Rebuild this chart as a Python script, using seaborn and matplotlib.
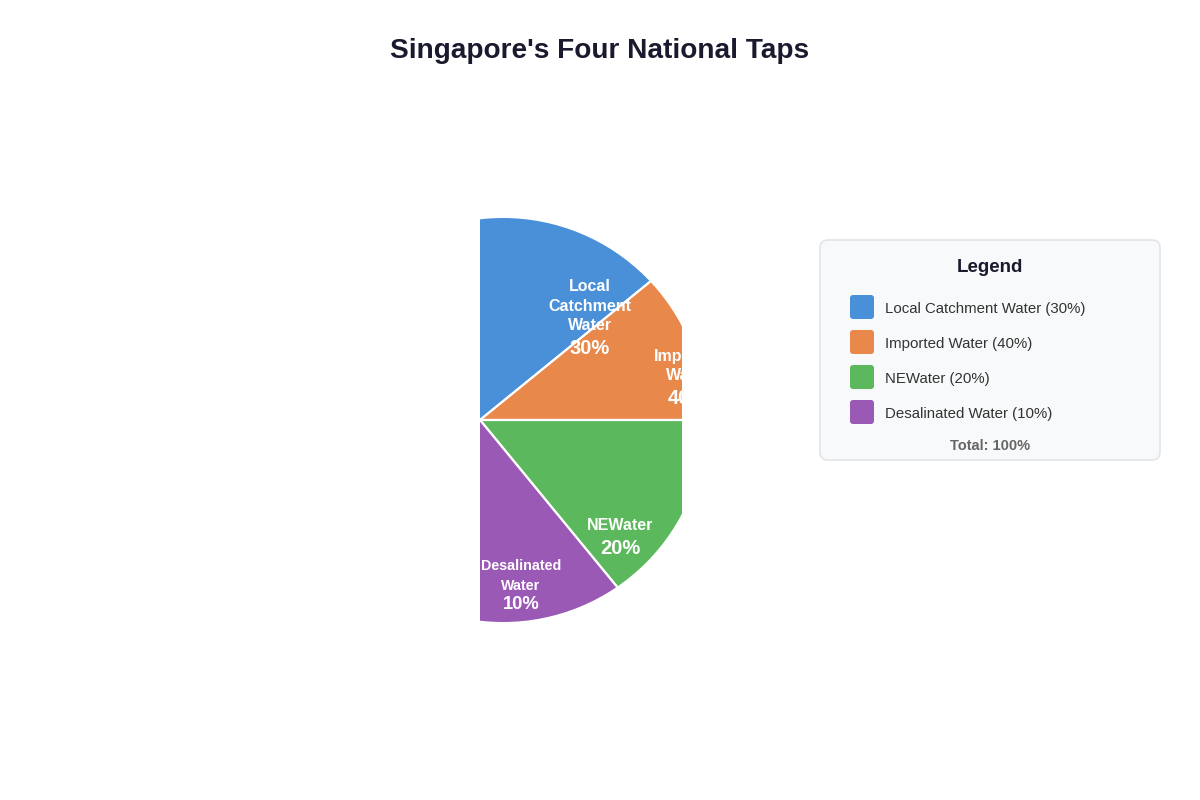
import matplotlib
matplotlib.use('Agg')
import matplotlib.pyplot as plt
from matplotlib.patches import FancyBboxPatch, Circle
import seaborn as sns

# data
sources = ['Local Catchment Water', 'Imported Water', 'NEWater', 'Desalinated Water']
shares = [30, 40, 20, 10]
slice_labels = ['Local\nCatchment\nWater', 'Imported\nWater', 'NEWater', 'Desalinated\nWater']
colors = ['#4A90D9', '#E8884B', '#5CB85C', '#9B59B6']
# sweep of each wedge as it is drawn in the picture (degrees, measured)
drawn_sweep = [140.9, 39.1, 50.6, 129.4]

sns.set_theme(style='white')
plt.rcParams['font.family'] = ['Liberation Sans', 'DejaVu Sans']

W, H = 1200, 800
fig = plt.figure(figsize=(12, 8), dpi=100)
ax = fig.add_axes([0, 0, 1, 1])
ax.set_xlim(0, W)
ax.set_ylim(H, 0)
ax.axis('off')

# the chart area only shows a strip of the pie (x 480..682)
x0, x1, y0, y1 = 480, 682, 218, 623
pax = fig.add_axes([x0 / W, 1 - y1 / H, (x1 - x0) / W, (y1 - y0) / H])
cx, cy, r = 480, 420, 230
wedges, _ = pax.pie(drawn_sweep, colors=colors, startangle=180, counterclock=True,
                    center=(cx, cy), radius=r, frame=True,
                    wedgeprops=dict(edgecolor='white', linewidth=1.6))
pax.set_xlim(x0, x1)
pax.set_ylim(y1, y0)
pax.set_aspect('auto')
pax.axis('off')

# round outline of the visible pie
outline = Circle((503, 420), 202, transform=pax.transData)
for w in wedges:
    w.set_clip_on(True)
    w.set_clip_path(outline)

# slice labels: (x, y of name, y of percent, name size, percent size)
label_pos = [(590, 306, 348, 11.5, 14.5), (688, 366, 398, 11.5, 14.5),
             (620, 525, 548, 11.5, 14.5), (521, 576, 604, 10.3, 13.2)]
for (x, yname, ypct, fs1, fs2), name, val in zip(label_pos, slice_labels, shares):
    pax.text(x, yname, name, ha='center', va='center', color='white',
             fontsize=fs1, fontweight='bold', linespacing=1.6 if fs1 < 11 else 1.4, clip_on=True)
    pax.text(x, ypct, f'{val}%', ha='center', va='center', color='white',
             fontsize=fs2, fontweight='bold', clip_on=True)

# title
ax.text(600, 51, "Singapore's Four National Taps", ha='center', va='center',
        fontsize=20.2, fontweight='bold', color='#1a1a2e')

# legend panel
box = FancyBboxPatch((820, 240), 340, 220, boxstyle='round,pad=0,rounding_size=8',
                     facecolor='#f8f9fa', edgecolor='#e2e4e8', linewidth=1.2)
ax.add_patch(box)
ax.text(990, 267, 'Legend', ha='center', va='center', fontsize=13.5,
        fontweight='bold', color='#1a1a2e')
for i, (src, val, c) in enumerate(zip(sources, shares, colors)):
    y = 307 + i * 35
    ax.add_patch(FancyBboxPatch((850, y - 12), 24, 24, boxstyle='round,pad=0,rounding_size=3',
                                facecolor=c, edgecolor='none'))
    ax.text(885, y + 2, f'{src} ({val}%)', ha='left', va='center', fontsize=10.8, color='#333333')
ax.text(990, 446, f'Total: {sum(shares)}%', ha='center', va='center', fontsize=10.5,
        fontweight='bold', color='#666666')

fig.savefig('out.png', dpi=100, facecolor='white')
